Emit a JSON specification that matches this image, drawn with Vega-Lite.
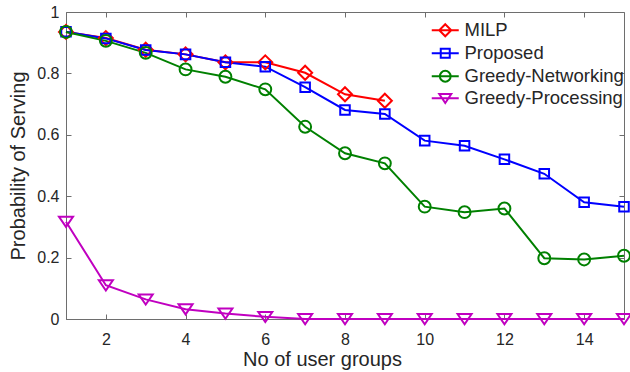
{
  "$schema": "https://vega.github.io/schema/vega-lite/v6.json",
  "width": 558,
  "height": 307,
  "autosize": {"type": "none"},
  "padding": {"left": 66, "top": 12, "right": 6, "bottom": 53},
  "background": "white",
  "config": {
    "font": "Liberation Sans",
    "view": {"stroke": "#6e6e6e", "strokeWidth": 1},
    "axis": {
      "domainColor": "#6e6e6e",
      "tickColor": "#6e6e6e",
      "labelColor": "#262626",
      "titleColor": "#262626",
      "labelFont": "Liberation Sans",
      "titleFont": "Liberation Sans",
      "labelFontSize": 16,
      "titleFontSize": 20,
      "titleFontWeight": "normal",
      "grid": false,
      "tickSize": -5
    }
  },
  "data": {
    "values": [
      {"x": 1, "s": "MILP", "y": 0.935},
      {"x": 2, "s": "MILP", "y": 0.915},
      {"x": 3, "s": "MILP", "y": 0.877},
      {"x": 4, "s": "MILP", "y": 0.862},
      {"x": 5, "s": "MILP", "y": 0.836},
      {"x": 6, "s": "MILP", "y": 0.836},
      {"x": 7, "s": "MILP", "y": 0.802},
      {"x": 8, "s": "MILP", "y": 0.732},
      {"x": 9, "s": "MILP", "y": 0.711},
      {"x": 1, "s": "Proposed", "y": 0.936},
      {"x": 2, "s": "Proposed", "y": 0.914},
      {"x": 3, "s": "Proposed", "y": 0.876},
      {"x": 4, "s": "Proposed", "y": 0.862},
      {"x": 5, "s": "Proposed", "y": 0.836},
      {"x": 6, "s": "Proposed", "y": 0.822},
      {"x": 7, "s": "Proposed", "y": 0.755},
      {"x": 8, "s": "Proposed", "y": 0.681},
      {"x": 9, "s": "Proposed", "y": 0.668},
      {"x": 10, "s": "Proposed", "y": 0.581},
      {"x": 11, "s": "Proposed", "y": 0.564},
      {"x": 12, "s": "Proposed", "y": 0.52},
      {"x": 13, "s": "Proposed", "y": 0.473},
      {"x": 14, "s": "Proposed", "y": 0.38},
      {"x": 15, "s": "Proposed", "y": 0.366},
      {"x": 1, "s": "Greedy-Networking", "y": 0.935},
      {"x": 2, "s": "Greedy-Networking", "y": 0.906},
      {"x": 3, "s": "Greedy-Networking", "y": 0.867},
      {"x": 4, "s": "Greedy-Networking", "y": 0.813},
      {"x": 5, "s": "Greedy-Networking", "y": 0.789},
      {"x": 6, "s": "Greedy-Networking", "y": 0.748},
      {"x": 7, "s": "Greedy-Networking", "y": 0.626},
      {"x": 8, "s": "Greedy-Networking", "y": 0.54},
      {"x": 9, "s": "Greedy-Networking", "y": 0.507},
      {"x": 10, "s": "Greedy-Networking", "y": 0.366},
      {"x": 11, "s": "Greedy-Networking", "y": 0.348},
      {"x": 12, "s": "Greedy-Networking", "y": 0.36},
      {"x": 13, "s": "Greedy-Networking", "y": 0.198},
      {"x": 14, "s": "Greedy-Networking", "y": 0.194},
      {"x": 15, "s": "Greedy-Networking", "y": 0.206},
      {"x": 1, "s": "Greedy-Processing", "y": 0.317},
      {"x": 2, "s": "Greedy-Processing", "y": 0.11},
      {"x": 3, "s": "Greedy-Processing", "y": 0.064},
      {"x": 4, "s": "Greedy-Processing", "y": 0.032},
      {"x": 5, "s": "Greedy-Processing", "y": 0.018},
      {"x": 6, "s": "Greedy-Processing", "y": 0.007},
      {"x": 7, "s": "Greedy-Processing", "y": 0.0},
      {"x": 8, "s": "Greedy-Processing", "y": 0.0},
      {"x": 9, "s": "Greedy-Processing", "y": 0.0},
      {"x": 10, "s": "Greedy-Processing", "y": 0.0},
      {"x": 11, "s": "Greedy-Processing", "y": 0.0},
      {"x": 12, "s": "Greedy-Processing", "y": 0.0},
      {"x": 13, "s": "Greedy-Processing", "y": 0.0},
      {"x": 14, "s": "Greedy-Processing", "y": 0.0},
      {"x": 15, "s": "Greedy-Processing", "y": 0.0}
    ]
  },
  "resolve": {
    "scale": {"x": "independent", "y": "independent", "color": "independent", "shape": "independent"},
    "axis": {"x": "independent", "y": "independent"}
  },
  "layer": [
    {
      "mark": {"type": "line", "strokeWidth": 2, "clip": false},
      "encoding": {
        "x": {"field": "x", "type": "quantitative", "scale": {"domain": [1, 15], "nice": false, "zero": false},
              "axis": {"orient": "bottom", "values": [2, 4, 6, 8, 10, 12, 14], "title": "No of user groups",
                       "labelPadding": 17, "titlePadding": 2, "titleX": 256, "domain": true}},
        "y": {"field": "y", "type": "quantitative", "scale": {"domain": [0, 1], "nice": false},
              "axis": {"orient": "left", "values": [0, 0.2, 0.4, 0.6, 0.8, 1], "title": "Probability of Serving",
                       "labelPadding": 12, "titlePadding": 8, "domain": true,
                       "labelExpr": "datum.value == 0 ? '0' : datum.value == 1 ? '1' : format(datum.value, '.1f')"}},
        "color": {"field": "s", "type": "nominal",
                  "scale": {"domain": ["MILP", "Proposed", "Greedy-Networking", "Greedy-Processing"],
                            "range": ["#ff0000", "#0000ff", "#008000", "#c000c0"]},
                  "legend": null}
      }
    },
    {
      "mark": {"type": "point", "filled": false, "strokeWidth": 2, "size": 196, "opacity": 1, "clip": false},
      "encoding": {
        "x": {"field": "x", "type": "quantitative", "scale": {"domain": [1, 15], "nice": false, "zero": false},
              "axis": {"orient": "top", "values": [2, 4, 6, 8, 10, 12, 14], "labels": false, "title": null, "domain": false, "tickSize": -5}},
        "y": {"field": "y", "type": "quantitative", "scale": {"domain": [0, 1], "nice": false},
              "axis": {"orient": "right", "values": [0, 0.2, 0.4, 0.6, 0.8, 1], "labels": false, "title": null, "domain": false, "tickSize": -5}},
        "color": {"field": "s", "type": "nominal",
                  "scale": {"domain": ["MILP", "Proposed", "Greedy-Networking", "Greedy-Processing"],
                            "range": ["#ff0000", "#0000ff", "#008000", "#c000c0"]},
                  "legend": null},
        "shape": {"field": "s", "type": "nominal",
                  "scale": {"domain": ["MILP", "Proposed", "Greedy-Networking", "Greedy-Processing"],
                            "range": ["M0,-1L1,0L0,1L-1,0Z",
                                      "M-0.68,-0.68H0.68V0.68H-0.68Z",
                                      "M-0.85,0A0.85,0.85,0,1,0,0.85,0A0.85,0.85,0,1,0,-0.85,0Z",
                                      "M-1,-0.7H1L0,0.75Z"]},
                  "legend": null}
      }
    },
    {
      "transform": [{"filter": "datum.x > 100"}],
      "mark": {"type": "point", "filled": false, "strokeWidth": 2, "opacity": 1},
      "encoding": {
        "x": {"field": "x", "type": "quantitative", "scale": {"domain": [1, 15], "nice": false, "zero": false}, "axis": null},
        "y": {"field": "y", "type": "quantitative", "scale": {"domain": [0, 1], "nice": false}, "axis": null},
        "color": {"field": "s", "type": "nominal",
                  "scale": {"domain": ["MILP", "Proposed", "Greedy-Networking", "Greedy-Processing"],
                            "range": ["#ff0000", "#0000ff", "#008000", "#c000c0"]},
                  "legend": {
                    "title": null, "orient": "none", "legendX": 370, "legendY": 9, "padding": 0,
                    "labelFontSize": 18.5, "labelColor": "#262626", "labelFont": "Liberation Sans",
                    "symbolSize": 144, "symbolStrokeWidth": 2, "labelOffset": 10, "rowPadding": 3
                  }},
        "shape": {"field": "s", "type": "nominal",
                  "scale": {"domain": ["MILP", "Proposed", "Greedy-Networking", "Greedy-Processing"],
                            "range": ["M-2.25,0H2.25M0,-1L1,0L0,1L-1,0Z",
                                      "M-2.25,0H2.25M-0.75,-0.75H0.75V0.75H-0.75Z",
                                      "M-2.25,0H2.25M-0.9,0A0.9,0.9,0,1,0,0.9,0A0.9,0.9,0,1,0,-0.9,0Z",
                                      "M-2.25,0H2.25M-1,-0.7H1L0,0.8Z"]},
                  "legend": {
                    "title": null, "orient": "none", "legendX": 370, "legendY": 9, "padding": 0,
                    "labelFontSize": 18.5, "labelColor": "#262626", "labelFont": "Liberation Sans",
                    "symbolSize": 144, "symbolStrokeWidth": 2, "labelOffset": 10, "rowPadding": 3
                  }}
      }
    }
  ]
}
